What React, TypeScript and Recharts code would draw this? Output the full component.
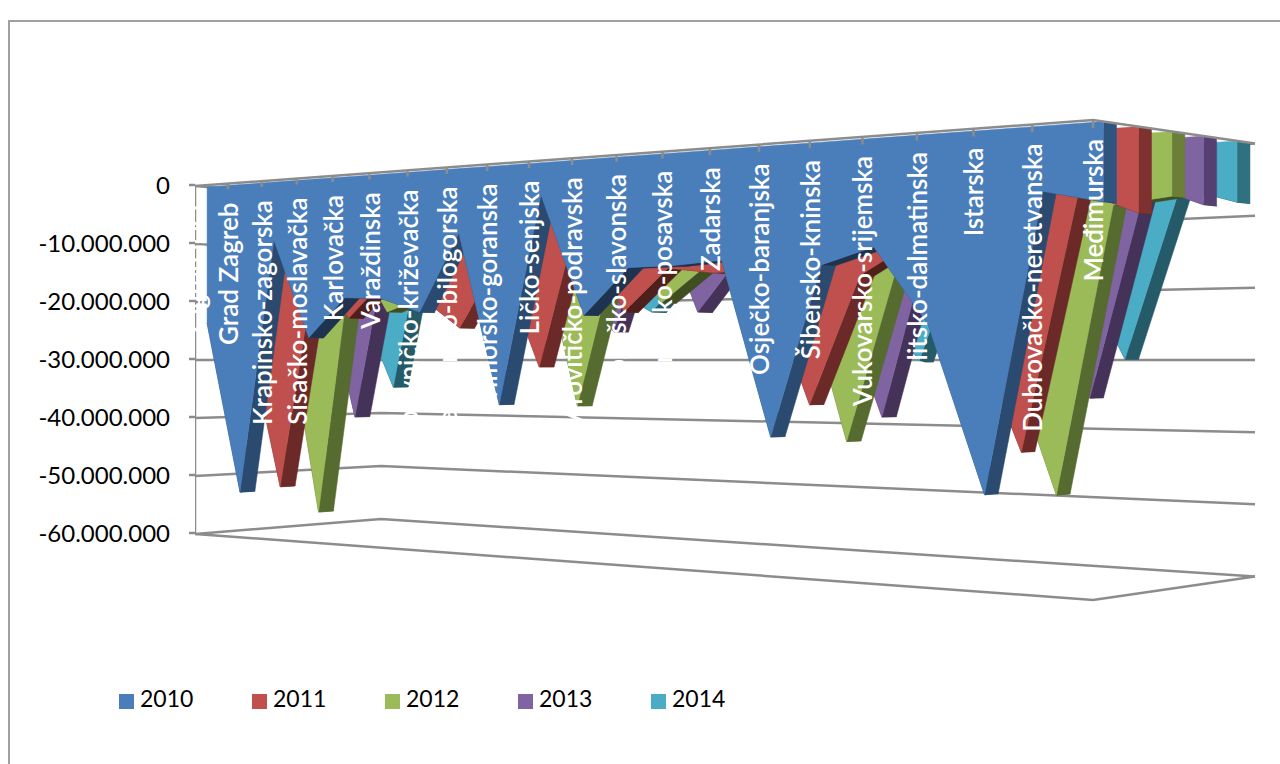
/**
 * Perspective "3D area" chart of Croatian counties, 2010-2014.
 * Recharts has no 3D area, so every series is a Scatter whose vertices are projected
 * first and whose line renderer fills the faces from the scaled points.
 */
import { ScatterChart, Scatter, XAxis, YAxis, Legend, Polygon } from 'recharts'

const CATEGORIES = [
  'Zagrebačka', 'Grad Zagreb', 'Krapinsko-zagorska', 'Sisačko-moslavačka', 'Karlovačka', 'Varaždinska',
  'Koprivničko-križevačka', 'Bjelovarsko-bilogorska', 'Primorsko-goranska', 'Ličko-senjska',
  'Virovitičko-podravska', 'Požeško-slavonska', 'Brodsko-posavska', 'Zadarska', 'Osječko-baranjska',
  'Šibensko-kninska', 'Vukovarsko-srijemska', 'Splitsko-dalmatinska', 'Istarska',
  'Dubrovačko-neretvanska', 'Međimurska',
]

const VALUES_2010 = [
  -23600000, -52600000, -9800000, -26300000, -19800000, -20100000, -22400000, -10100000, -36900000, -4900000,
  -23300000, -16400000, -16300000, -15800000, -40800000, -16900000, -14700000, -25300000, -47600000, -8400000, -10100000,
]
const VALUES_2011 = [
  -24900000, -52100000, -15000000, -22900000, -16500000, -19800000, -24800000, -13700000, -31100000, -6000000,
  -22700000, -16200000, -17100000, -16900000, -36400000, -18100000, -13800000, -23200000, -42300000, -7800000, -11100000,
]
const VALUES_2012 = [
  -20700000, -57000000, -10800000, -21700000, -19300000, -20000000, -19300000, -8300000, -37400000, -10700000,
  -21100000, -15600000, -15300000, -15900000, -41900000, -16800000, -14500000, -26400000, -48400000, -9300000, -8500000,
]
const VALUES_2013 = [
  -14400000, -40300000, -7400000, -19400000, -21000000, -19700000, -19900000, -16700000, -25400000, -4200000,
  -22400000, -13400000, -13100000, -18200000, -38500000, -11000000, -12700000, -15800000, -35300000, -6100000, -9200000,
]
const VALUES_2014 = [
  -19900000, -35000000, -2700000, -18300000, -19400000, -19500000, -19700000, -18100000, -22000000, -13900000,
  -14100000, -13200000, -12500000, -17700000, -30300000, -9100000, -11100000, -14100000, -29900000, -5900000, -8400000,
]

const YEARS = ['2010', '2011', '2012', '2013', '2014']
const SERIES_VALUES = [VALUES_2010, VALUES_2011, VALUES_2012, VALUES_2013, VALUES_2014]
const FRONT_COLORS = ['#4A7EBB', '#C0504D', '#9BBB59', '#8064A2', '#4BACC6']
const STEEP_COLORS = ['#2A4A70', '#6B2A28', '#566B30', '#443259', '#255A68']
const FLAT_COLORS = ['#1D3350', '#4F1F1C', '#3F4F22', '#332644', '#1A4A55']
const CAP_COLORS = ['#2F5480', '#7F312F', '#6B7F39', '#563F71', '#2F7180']
const Y_TICKS = [0, -10000000, -20000000, -30000000, -40000000, -50000000, -60000000]

const GRID = '#8C8C8C'
const FONT = 'Lato, sans-serif'
const VALUE_PER_PX = 60000000 / 348

// perspective of the box: category position, depth 0..1 (front..back wall), value
const project = (t: number, d: number, v: number) => {
  const tick = 195 + (32.49 * t) / (1 - 0.01382 * t)
  const xf = (tick - 195) / 898
  const width = 186 - 24 * xf * xf * xf
  const h = (1 - d) * (348 + 132 * xf) + d * (318 + 115 * xf)
  const py = 360 - ((v + 30000000) * h) / 60000000
  return { sx: tick + d * width, sy: -(py - 185) * VALUE_PER_PX }
}

const Nothing = () => null
const seriesDepth = (s: number) => 0.065 + 0.206 * s + (s > 0 && s < 3 ? 0.01 : 0)

const seriesData = (s: number) => {
  const front = seriesDepth(s)
  const back = front + 0.08
  const vals = SERIES_VALUES[s]
  return [
    ...vals.map((v, t) => project(t, front, v)),
    ...vals.map((v, t) => project(t, back, v)),
    ...vals.map((_, t) => project(t, front, 0)),
    ...vals.map((_, t) => project(t, back, 0)),
  ]
}

const seriesFaces = (s: number) => (props: any) => {
  const pts = props.points
  const n = CATEGORIES.length
  const lowF = pts.slice(0, n)
  const lowB = pts.slice(n, 2 * n)
  const topF = pts.slice(2 * n, 3 * n)
  const topB = pts.slice(3 * n, 4 * n)
  const faces = []
  for (let i = 0; i < n - 1; i++) {
    const slope = Math.abs((lowF[i + 1].y - lowF[i].y) / (lowF[i + 1].x - lowF[i].x))
    const color = slope < 1.2 ? FLAT_COLORS[s] : STEEP_COLORS[s]
    faces.push(
      <Polygon key={i} points={[lowF[i], lowF[i + 1], lowB[i + 1], lowB[i]]} fill={color} stroke={color} strokeWidth={0.5} />,
    )
  }
  return (
    <g>
      {faces}
      <Polygon points={[topF[n - 1], lowF[n - 1], lowB[n - 1], topB[n - 1]]} fill={CAP_COLORS[s]} stroke={CAP_COLORS[s]} strokeWidth={0.5} />
      <Polygon points={[...topF, ...[...lowF].reverse()]} fill={FRONT_COLORS[s]} stroke={FRONT_COLORS[s]} strokeWidth={0.5} />
    </g>
  )
}

// plain gray polyline through the scaled points
const grayLine = (props: any) => (
  <polyline
    points={props.points.map((p: any) => `${p.x},${p.y}`).join(' ')}
    fill="none"
    stroke={GRID}
    strokeWidth={2.5}
  />
)

const wallLines = Y_TICKS.map((v) => [project(0, 0, v), project(0, 1, v), project(20, 1, v)])
const boxLines = [
  [project(0, 0, 0), project(0, 0, -60000000)],
  [project(0, 0, -60000000), project(20, 0, -60000000), project(20, 1, -60000000)],
]
const topLines = [
  [project(0, 0, 0), project(20, 0, 0), project(20, 1, 0)],
  ...CATEGORIES.slice(1).map((_, i) => [project(i + 1, 0, 0), project(i + 1, 0, -1000000)]),
]
const labelPoints = CATEGORIES.map((name, t) => ({ ...project(t, 0, 0), name }))

const CategoryLabel = (props: any) => (
  <text
    transform={`translate(${props.cx},${props.cy + 19}) rotate(-90)`}
    textAnchor="end"
    dominantBaseline="central"
    fill="#fff"
    fontSize={26}
    fontWeight={600}
    fontFamily={FONT}
  >
    {props.payload.name}
  </text>
)

const formatTick = (v: number) => String(v).replace(/\B(?=(\d{3})+$)/g, '.')

export default function App() {
  return (
    <div style={{ position: 'absolute', left: 0, top: 0, width: 1280, height: 764, overflow: 'hidden', background: '#fff' }}>
      <div style={{ position: 'absolute', left: 8, top: 20, width: 1400, height: 900, border: '2px solid #A0A0A0' }} />
      <div style={{ position: 'absolute', left: 0, top: 0 }}>
        <ScatterChart width={1280} height={764} margin={{ top: 0, right: 0, bottom: 0, left: 0 }}>
          <XAxis type="number" dataKey="sx" domain={[195, 1280]} hide allowDataOverflow />
          <YAxis
            type="number"
            dataKey="sy"
            width={195}
            domain={[-60000000 - 231 * VALUE_PER_PX, 185 * VALUE_PER_PX]}
            ticks={Y_TICKS}
            interval={0}
            allowDataOverflow
            axisLine={false}
            tickLine={{ stroke: GRID, strokeWidth: 2.5 }}
            tickSize={6}
            tickMargin={19}
            tick={{ fontSize: 24, fill: '#000', fontFamily: FONT }}
            tickFormatter={formatTick}
          />
          {[...wallLines, ...boxLines].map((pts, i) => (
            <Scatter key={`grid-${i}`} data={pts} shape={Nothing} line={grayLine} legendType="none" isAnimationActive={false} />
          ))}
          {[4, 3, 2, 1, 0].map((s) => (
            <Scatter
              key={YEARS[s]}
              name={YEARS[s]}
              data={seriesData(s)}
              fill={FRONT_COLORS[s]}
              shape={Nothing}
              line={seriesFaces(s)}
              legendType="square"
              isAnimationActive={false}
            />
          ))}
          {topLines.map((pts, i) => (
            <Scatter key={`top-${i}`} data={pts} shape={Nothing} line={grayLine} legendType="none" isAnimationActive={false} />
          ))}
          <Scatter data={labelPoints} shape={CategoryLabel} legendType="none" isAnimationActive={false} />
          <Legend
            layout="horizontal"
            verticalAlign="middle"
            align="center"
            iconSize={15}
            wrapperStyle={{ left: 119, top: 684, bottom: 'auto', width: 'auto', fontFamily: FONT, fontSize: 23 }}
            formatter={(value: string) => (
              <span style={{ display: 'inline-block', width: 102, paddingLeft: 2, textAlign: 'left', color: '#000' }}>{value}</span>
            )}
          />
        </ScatterChart>
      </div>
    </div>
  )
}
